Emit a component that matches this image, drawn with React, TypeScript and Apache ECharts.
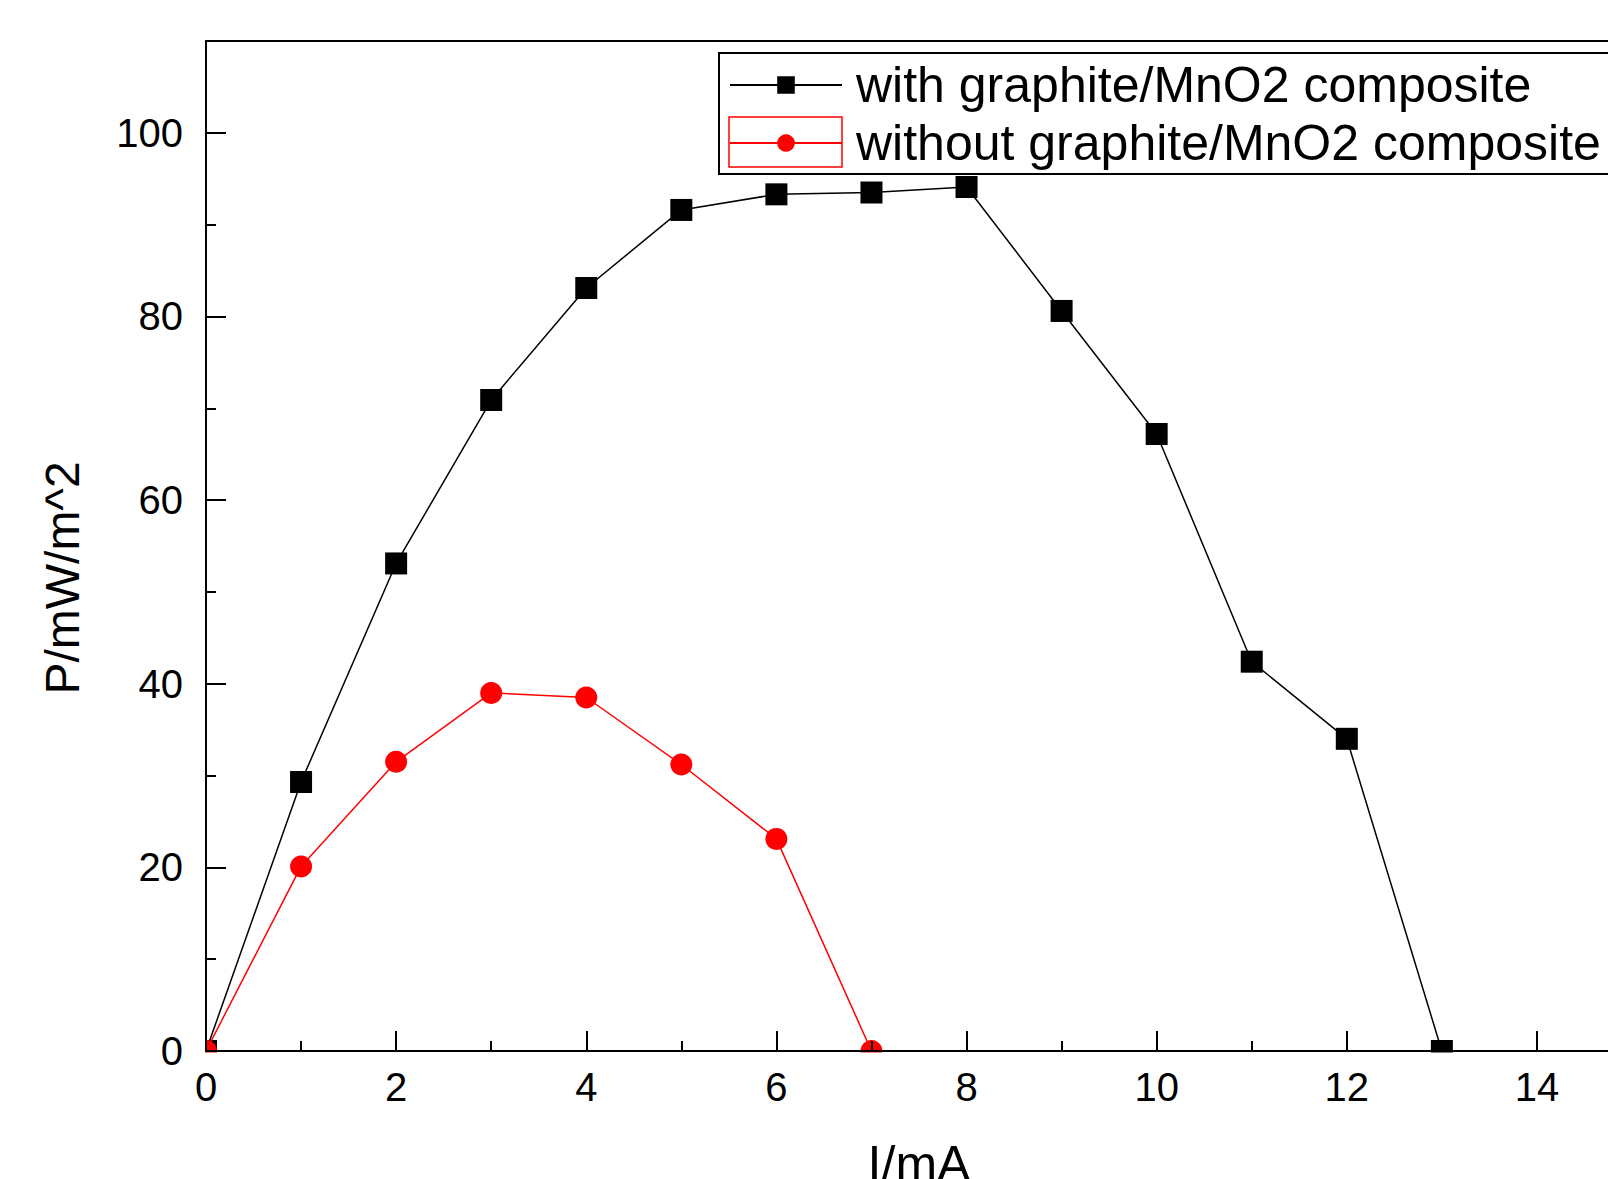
import React, { useEffect, useRef } from "react";
import * as echarts from "echarts";

// Current (mA) and power density (mW/m^2)
const currentWith = [0, 1, 2, 3, 4, 5, 6, 7, 8, 9, 10, 11, 12, 13];
const powerWith = [0, 29.3, 53.1, 70.9, 83.1, 91.6, 93.3, 93.5, 94.1, 80.6, 67.2, 42.4, 34.0, 0];
const currentWithout = [0, 1, 2, 3, 4, 5, 6, 7];
const powerWithout = [0, 20.1, 31.5, 39.0, 38.5, 31.2, 23.1, 0];

const xMajorTicks = [0, 2, 4, 6, 8, 10, 12, 14];
const xMinorTicks = [1, 3, 5, 7, 9, 11, 13, 15];
const yMajorTicks = [0, 20, 40, 60, 80, 100];
const yMinorTicks = [10, 30, 50, 70, 90];

const seriesNames = ["with graphite/MnO2 composite", "without graphite/MnO2 composite"];
const xTitle = "I/mA";
const yTitle = "P/mW/m^2";

const FONT = "Liberation Sans, Arial, sans-serif";

export default function App() {
  const ref = useRef<HTMLDivElement>(null);
  useEffect(() => {
    if (!ref.current) return;
    const chart = echarts.init(ref.current, null, { renderer: "svg" });
    const xMin = 0, xMax = 15, yMin = 0, yMax = 110;
    const axisLine = { show: true, lineStyle: { color: "#000", width: 2 } };
    chart.setOption({
      animation: false,
      backgroundColor: "#fff",
      grid: {
        left: 206,
        top: 41,
        width: 1426,
        height: 1010,
        containLabel: false,
        outerBoundsMode: "none",
        show: true,
        borderColor: "#000",
        borderWidth: 2,
        backgroundColor: "transparent",
      },
      xAxis: [
        {
          type: "value",
          min: xMin,
          max: xMax,
          z: 10,
          axisLine,
          splitLine: { show: false },
          axisTick: { inside: true, length: 20, customValues: xMajorTicks, lineStyle: { color: "#000", width: 2 } },
          axisLabel: { customValues: xMajorTicks, color: "#000", fontSize: 40, fontFamily: FONT, margin: 16 },
          name: xTitle,
          nameLocation: "middle",
          nameGap: 88,
          nameTextStyle: { color: "#000", fontSize: 50, fontFamily: FONT },
        },
        {
          type: "value",
          min: xMin,
          max: xMax,
          position: "bottom",
          z: 10,
          axisLine: { show: false },
          splitLine: { show: false },
          axisTick: { inside: true, length: 10, customValues: xMinorTicks, lineStyle: { color: "#000", width: 2 } },
          axisLabel: { show: false },
        },
      ],
      yAxis: [
        {
          type: "value",
          min: yMin,
          max: yMax,
          z: 10,
          axisLine,
          splitLine: { show: false },
          axisTick: { inside: true, length: 20, customValues: yMajorTicks, lineStyle: { color: "#000", width: 2 } },
          axisLabel: { customValues: yMajorTicks, color: "#000", fontSize: 40, fontFamily: FONT, margin: 23 },
        },
        {
          type: "value",
          min: yMin,
          max: yMax,
          position: "left",
          z: 10,
          axisLine: { show: false },
          splitLine: { show: false },
          axisTick: { inside: true, length: 10, customValues: yMinorTicks, lineStyle: { color: "#000", width: 2 } },
          axisLabel: { show: false },
        },
      ],
      legend: {
        orient: "vertical",
        left: 719,
        top: 53,
        itemWidth: 112,
        itemHeight: 22,
        itemGap: 8,
        padding: [7, 30, 6, 10],
        borderColor: "#000",
        borderWidth: 2,
        backgroundColor: "#fff",
        textStyle: { color: "#000", fontSize: 50, fontFamily: FONT, padding: [0, 0, 0, 9] },
        data: seriesNames,
        z: 20,
      },
      graphic: [
        {
          type: "rect",
          z: 5,
          shape: { x: 150, y: 1052.5, width: 1458, height: 20 },
          style: { fill: "#fff" },
        },
        {
          type: "rect",
          z: 5,
          shape: { x: 150, y: 1010, width: 55, height: 62 },
          style: { fill: "#fff" },
        },
        {
          type: "rect",
          z: 30,
          shape: { x: 729, y: 117, width: 113, height: 50 },
          style: { fill: "none", stroke: "#ff0000", lineWidth: 1.5 },
        },
        {
          type: "text",
          z: 30,
          x: 62,
          y: 578,
          rotation: Math.PI / 2,
          style: {
            text: yTitle,
            fill: "#000",
            fontSize: 48,
            fontFamily: FONT,
            align: "center",
            verticalAlign: "middle",
          },
        },
      ],
      series: [
        {
          name: seriesNames[0],
          type: "line",
          xAxisIndex: 0,
          yAxisIndex: 0,
          data: currentWith.map((x, i) => [x, powerWith[i]]),
          symbol: "rect",
          symbolSize: 22,
          itemStyle: { color: "#000" },
          lineStyle: { color: "#000", width: 1.5 },
          z: 3,
        },
        {
          name: seriesNames[1],
          type: "line",
          xAxisIndex: 0,
          yAxisIndex: 0,
          data: currentWithout.map((x, i) => [x, powerWithout[i]]),
          symbol: "circle",
          symbolSize: 22,
          itemStyle: { color: "#ff0000" },
          lineStyle: { color: "#ff0000", width: 1.5 },
          z: 4,
        },
      ],
    });
    return () => chart.dispose();
  }, []);
  return (
    <div
      ref={ref}
      style={{ position: "fixed", left: 0, top: 0, width: 1608, height: 1179, background: "#fff" }}
    />
  );
}
